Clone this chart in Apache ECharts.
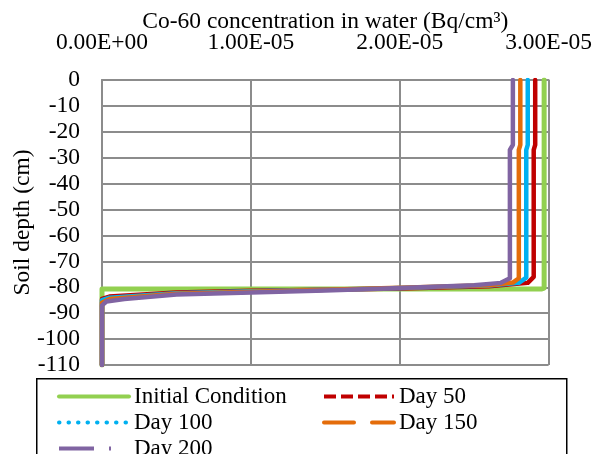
<!DOCTYPE html>
<html>
<head>
<meta charset="utf-8">
<script src="https://cdn.jsdelivr.net/npm/echarts@6/dist/echarts.min.js"></script>
<style>html,body{margin:0;padding:0;background:#fff}#c{width:595px;height:454px}</style>
</head>
<body>
<div id="c"></div>
<script>
// ---- data (concentration Bq/cm3, depth cm) ----
var seriesNames = ['Initial Condition', 'Day 50', 'Day 100', 'Day 150', 'Day 200'];
var xTicks = [0, 1e-5, 2e-5, 3e-5];
var yTicks = [0, -10, -20, -30, -40, -50, -60, -70, -80, -90, -100, -110];

var icConc  = [2.97e-5, 2.97e-5, 2.95e-5, 0, 0];
var icDepth = [0, -80.3, -80.7, -80.7, -110];

var d50Conc  = [2.91e-5, 2.91e-5, 2.90e-5, 2.90e-5, 2.86e-5, 2.60e-5, 2.0e-5, 1.5e-5, 1.0e-5, 0.5e-5, 0.05e-5, 0, 0];
var d50Depth = [0, -25, -27, -76, -78.3, -79.6, -80.5, -81.0, -81.3, -82.0, -83.6, -84.5, -110];

var d100Conc  = [2.86e-5, 2.86e-5, 2.85e-5, 2.85e-5, 2.80e-5, 2.60e-5, 2.0e-5, 1.5e-5, 1.0e-5, 0.5e-5, 0.05e-5, 0, 0];
var d100Depth = [0, -25, -27, -76.3, -78.3, -79.3, -80.3, -81.0, -81.5, -82.3, -84.0, -85.0, -110];

var d150Conc  = [2.81e-5, 2.81e-5, 2.80e-5, 2.80e-5, 2.76e-5, 2.60e-5, 2.0e-5, 1.5e-5, 1.0e-5, 0.5e-5, 0.05e-5, 0, 0];
var d150Depth = [0, -25, -27, -76.5, -78.2, -79.2, -80.2, -81.0, -81.7, -82.5, -84.5, -86.0, -110];

var d200Conc  = [2.76e-5, 2.76e-5, 2.74e-5, 2.74e-5, 2.68e-5, 2.50e-5, 2.0e-5, 1.5e-5, 1.0e-5, 0.5e-5, 0.15e-5, 0.03e-5, 0, 0];
var d200Depth = [0, -25, -27, -76.5, -78.3, -79.2, -80.3, -81.2, -82.0, -82.8, -84.5, -85.5, -87, -110];

var colors = ['#92D050', '#C00000', '#00B0F0', '#E46C0A', '#8064A2'];

function pairs(xs, ys) { return xs.map(function (x, i) { return [x, ys[i]]; }); }
function sci(v) {
  if (Math.abs(v) < 1e-12) return '0.00E+00';
  var e = Math.floor(Math.log10(Math.abs(v)) + 1e-9);
  var m = v / Math.pow(10, e);
  var es = (e < 0 ? '-' : '+') + (Math.abs(e) < 10 ? '0' : '') + Math.abs(e);
  return m.toFixed(2) + 'E' + es;
}

var font = 'Liberation Serif';
var allData = [pairs(icConc, icDepth), pairs(d50Conc, d50Depth), pairs(d100Conc, d100Depth),
               pairs(d150Conc, d150Depth), pairs(d200Conc, d200Depth)];
var widths = [5, 4.5, 4.5, 4.5, 4.5];
var legendStyles = [
  { width: 4, type: 'solid', cap: 'round' },
  { width: 4, type: [12, 5], cap: 'butt' },
  { width: 4, type: [0.5, 9], cap: 'round' },
  { width: 4, type: [30, 18], cap: 'round' },
  { width: 4, type: [35, 15, 2, 40], cap: 'butt' }
];
var legendPos = [[57, 385], [322, 385], [57, 411], [322, 411], [57, 437]];

var series = seriesNames.map(function (n, i) {
  return {
    name: n, type: 'line', data: allData[i], symbol: 'none', showSymbol: false,
    lineStyle: { color: colors[i], width: widths[i], join: 'round', cap: 'round' },
    itemStyle: { color: colors[i] },
    animation: false
  };
});

var legends = seriesNames.map(function (n, i) {
  var s = legendStyles[i];
  return {
    left: legendPos[i][0], top: legendPos[i][1], itemWidth: 70, itemHeight: 14,
    padding: 0, selectedMode: false, z: 10,
    textStyle: { fontFamily: font, fontSize: 23, color: '#000' },
    data: [{ name: n, itemStyle: { opacity: 0, borderWidth: 0 },
      lineStyle: { color: colors[i], width: s.width, type: s.type, cap: s.cap, opacity: 1 } }]
  };
});

var axisText = { fontFamily: font, fontSize: 23.5, color: '#000' };

var chart = echarts.init(document.getElementById('c'), null, { renderer: 'canvas' });
chart.setOption({
  animation: false,
  textStyle: { fontFamily: font },
  grid: { left: 102, top: 80, right: 44, bottom: 89, containLabel: false },
  xAxis: {
    type: 'value', position: 'top', min: 0, max: 3e-5, interval: 1e-5,
    name: 'Co-60 concentration in water (Bq/cm³)', nameLocation: 'middle', nameGap: 46,
    nameMoveOverlap: false,
    nameTextStyle: axisText,
    axisLine: { show: true, lineStyle: { color: '#8c8c8c', width: 2 } },
    axisTick: { show: false },
    axisLabel: { fontFamily: font, fontSize: 23.5, color: '#000', margin: 25,
      formatter: function (v) { return sci(v); } },
    splitLine: { show: true, lineStyle: { color: '#8c8c8c', width: 2 } }
  },
  yAxis: {
    type: 'value', min: -110, max: 0, interval: 10,
    name: 'Soil depth (cm)', nameLocation: 'middle', nameGap: 67, nameRotate: 90,
    nameMoveOverlap: false,
    nameTextStyle: axisText,
    axisLine: { show: true, lineStyle: { color: '#8c8c8c', width: 2 } },
    axisTick: { show: false },
    axisLabel: { fontFamily: font, fontSize: 23.5, color: '#000', margin: 22 },
    splitLine: { show: true, lineStyle: { color: '#8c8c8c', width: 2 } }
  },
  graphic: [{
    type: 'rect', left: 36, top: 378, z: 0,
    shape: { width: 530, height: 100 },
    style: { fill: '#fff', stroke: '#000', lineWidth: 1.5 }
  }],
  legend: legends,
  series: series
});
</script>
</body>
</html>
